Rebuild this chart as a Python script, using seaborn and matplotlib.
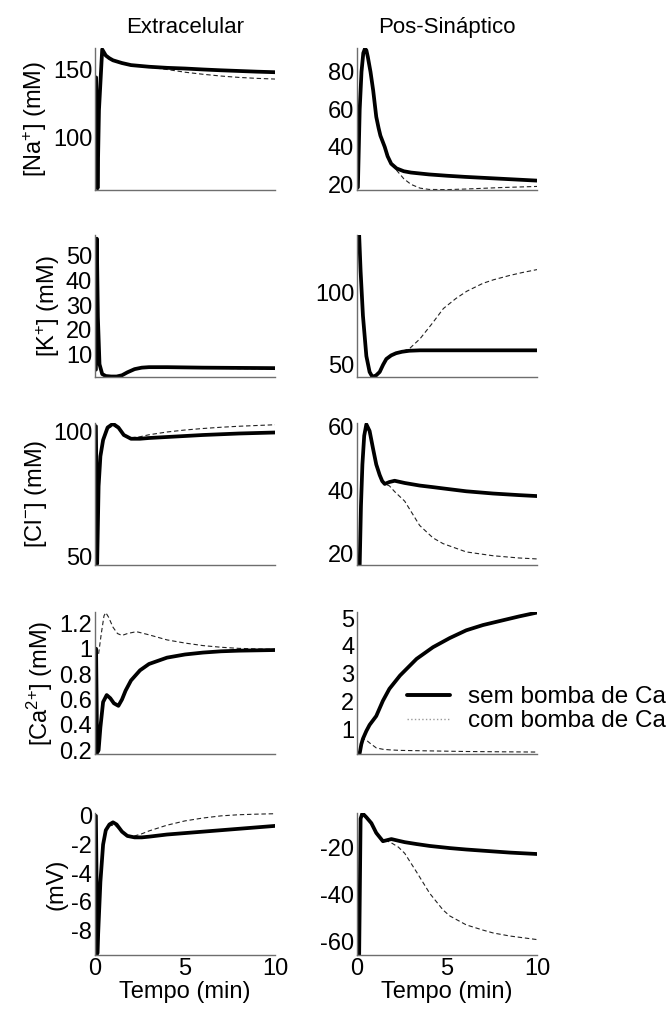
import pandas as pd
import seaborn as sns
import matplotlib.pyplot as plt
from matplotlib.lines import Line2D

# Extracelular column (time in min)
NA_EXT_T = [0, 0.06, 0.14, 0.22, 0.4, 0.6, 0.8, 1.0, 1.5, 2, 3, 4, 5, 6, 7, 8, 9, 10]
NA_EXT_SEM = [144, 144, 63, 120, 164.5, 160, 158, 156.5, 154.5, 153, 151.8, 151, 150.5, 149.8, 149.2, 148.7, 148.2, 147.8]
NA_EXT_COM = [144, 144, 63, 120, 164.5, 160, 158, 156.5, 154.5, 153, 151.5, 149.8, 147.8, 146.3, 145, 144, 143.3, 142.8]

K_EXT_T = [0, 0.05, 0.1, 0.16, 0.25, 0.4, 0.6, 0.9, 1.2, 1.5, 1.8, 2.2, 2.6, 3, 4, 5, 6, 8, 10]
K_EXT_SEM = [3.8, 3.8, 57, 25, 6, 2.0, 1.2, 1.0, 1.0, 1.5, 2.7, 4.0, 4.6, 4.8, 4.8, 4.7, 4.6, 4.5, 4.4]
K_EXT_COM = [3.8, 3.8, 57, 25, 6, 2.0, 1.2, 1.0, 1.0, 1.5, 2.7, 4.0, 4.6, 4.7, 4.6, 4.5, 4.4, 4.2, 4.1]

CL_EXT_T = [0, 0.05, 0.12, 0.2, 0.3, 0.45, 0.7, 1.0, 1.3, 1.6, 2.0, 2.5, 3, 4, 5, 6, 7, 8, 9, 10]
CL_EXT_SEM = [102, 102, 47, 78, 90, 96.5, 101.5, 103, 101.5, 98.5, 97, 97, 97.3, 97.7, 98.1, 98.5, 98.8, 99.1, 99.3, 99.5]
CL_EXT_COM = [102, 102, 47, 78, 90, 96.5, 101, 102.3, 101, 98.5, 97.4, 97.8, 98.6, 99.7, 100.5, 101.1, 101.6, 102, 102.3, 102.6]

CA_EXT_T_SEM = [0, 0.06, 0.12, 0.2, 0.3, 0.45, 0.65, 0.85, 1.05, 1.3, 1.5, 1.7, 2.0, 2.5, 3, 4, 5, 6, 7, 8, 10]
CA_EXT_SEM = [1.0, 1.0, 0.18, 0.2, 0.38, 0.58, 0.635, 0.61, 0.57, 0.55, 0.6, 0.67, 0.75, 0.83, 0.88, 0.93, 0.955, 0.97, 0.98, 0.985, 0.99]
CA_EXT_T_COM = [0, 0.1, 0.2, 0.35, 0.5, 0.6, 0.75, 1.0, 1.25, 1.5, 1.8, 2.3, 3, 4, 5, 6, 7, 8, 10]
CA_EXT_COM = [1.0, 1.0, 0.96, 1.12, 1.26, 1.285, 1.25, 1.17, 1.12, 1.105, 1.12, 1.135, 1.11, 1.07, 1.045, 1.025, 1.012, 1.003, 0.995]

V_EXT_T = [0, 0.05, 0.13, 0.2, 0.3, 0.45, 0.6, 0.8, 1.0, 1.2, 1.5, 1.8, 2.2, 2.6, 3, 4, 5, 6, 7, 8, 9, 10]
V_EXT_SEM = [0, 0, -9.6, -7.5, -4.6, -2.0, -1.0, -0.6, -0.45, -0.6, -1.1, -1.4, -1.5, -1.5, -1.45, -1.3, -1.2, -1.1, -1.0, -0.9, -0.8, -0.7]
V_EXT_COM = [0, 0, -9.6, -7.5, -4.6, -2.0, -1.0, -0.7, -0.65, -0.75, -1.1, -1.35, -1.4, -1.25, -1.05, -0.65, -0.35, -0.15, 0.0, 0.08, 0.12, 0.15]

# Pos-Sinaptico column
NA_POST_T = [0, 0.05, 0.15, 0.25, 0.35, 0.44, 0.52, 0.6, 0.75, 0.9, 1.07, 1.2, 1.3, 1.42, 1.54, 1.7, 1.9, 2.2, 2.6, 3, 3.5, 4, 5, 6, 7, 8, 9, 10]
NA_POST_SEM = [18, 18.5, 60, 80, 90, 92.3, 91.5, 88, 80, 70, 56, 50, 46, 43, 40, 35, 31, 28.5, 27, 26.3, 25.8, 25.3, 24.6, 24, 23.5, 23, 22.5, 22]
NA_POST_COM = [18, 18.5, 60, 80, 90, 92.3, 91.5, 88, 80, 70, 56, 50, 46, 43, 40, 35, 31, 27.5, 23, 20, 18, 17.3, 17.2, 17.5, 17.9, 18.3, 18.6, 18.9]

K_POST_T = [0, 0.12, 0.2, 0.33, 0.52, 0.7, 0.85, 1.05, 1.26, 1.45, 1.63, 1.9, 2.17, 2.5, 2.9, 3.5, 4.2, 4.8, 5.5, 6.1, 7, 7.6, 8.5, 9.2, 10]
K_POST_SEM = [140, 140, 115, 84, 56, 45, 41.7, 42.5, 45, 50, 54, 56.5, 58, 59, 59.7, 60, 60, 60, 60, 60, 60, 60, 60, 60, 60]
K_POST_COM = [140, 140, 115, 84, 56, 45, 41.7, 42.5, 45, 50, 54, 56.5, 58, 59.3, 61, 68, 79, 89, 96, 101, 106.5, 109, 112, 114, 116]

CL_POST_T = [0, 0.15, 0.22, 0.3, 0.4, 0.52, 0.7, 0.89, 1.07, 1.26, 1.4, 1.54, 1.8, 2.09, 2.65, 3.48, 4.22, 4.78, 6.07, 7.56, 9, 10]
CL_POST_SEM = [16.5, 16.5, 35, 48, 57, 60.6, 58.5, 53, 48, 44.7, 42.8, 41.9, 42.5, 42.9, 42.2, 41.4, 40.9, 40.5, 39.6, 38.9, 38.4, 38.1]
CL_POST_COM = [16.5, 16.5, 35, 48, 57, 60.6, 58.5, 53, 48, 44.7, 42.8, 41.9, 41.3, 39.5, 36.5, 28.9, 25, 23.2, 20.6, 19.4, 18.7, 18.4]

CA_POST_T = [0, 0.15, 0.24, 0.33, 0.52, 0.7, 1.07, 1.44, 1.8, 2.39, 3.31, 4.22, 5.15, 6.07, 7.0, 7.9, 9.0, 10]
CA_POST_SEM = [0.1, 0.13, 0.45, 0.65, 0.93, 1.15, 1.47, 2.02, 2.45, 2.93, 3.53, 3.95, 4.28, 4.56, 4.75, 4.89, 5.06, 5.2]
CA_POST_COM = [0.1, 0.2, 0.5, 0.65, 0.6, 0.5, 0.32, 0.27, 0.25, 0.23, 0.22, 0.21, 0.2, 0.19, 0.185, 0.18, 0.175, 0.17]

V_POST_T = [0, 0.12, 0.2, 0.3, 0.52, 0.8, 1.07, 1.44, 1.7, 1.91, 2.3, 2.65, 3.31, 4.04, 4.78, 5.15, 6.07, 7.0, 7.56, 8.5, 10]
V_POST_SEM = [-65.5, -65.5, -8, -5.7, -7.4, -9.9, -14, -17.5, -17.0, -16.6, -17.3, -17.9, -18.7, -19.5, -20.1, -20.4, -21, -21.5, -21.8, -22.3, -22.9]
V_POST_COM = [-65.5, -65.5, -8, -5.7, -7.4, -9.9, -14, -17.3, -17.5, -18.2, -20, -22.6, -30.5, -39.5, -46.5, -49, -52.8, -55, -56.2, -57.5, -59]

TITLES = ["Extracelular", "Pos-Sináptico"]
YLABELS = ["[Na$^{+}$] (mM)", "[K$^{+}$] (mM)", "[Cl$^{-}$] (mM)", "[Ca$^{2{+}}$] (mM)", "(mV)"]
LEGEND_LABELS = ["sem bomba de Ca", "com bomba de Ca"]

# (t_sem, sem, t_com, com, ylim, yticks) per panel, rows top to bottom
LEFT = [
    (NA_EXT_T, NA_EXT_SEM, NA_EXT_T, NA_EXT_COM, (61.7, 165.5), [100, 150]),
    (K_EXT_T, K_EXT_SEM, K_EXT_T, K_EXT_COM, (0.8, 58.5), [10, 20, 30, 40, 50]),
    (CL_EXT_T, CL_EXT_SEM, CL_EXT_T, CL_EXT_COM, (46.5, 103.3), [50, 100]),
    (CA_EXT_T_SEM, CA_EXT_SEM, CA_EXT_T_COM, CA_EXT_COM, (0.17, 1.29), [0.2, 0.4, 0.6, 0.8, 1, 1.2]),
    (V_EXT_T, V_EXT_SEM, V_EXT_T, V_EXT_COM, (-9.7, 0.2), [-8, -6, -4, -2, 0]),
]
RIGHT = [
    (NA_POST_T, NA_POST_SEM, NA_POST_T, NA_POST_COM, (17, 92.7), [20, 40, 60, 80]),
    (K_POST_T, K_POST_SEM, K_POST_T, K_POST_COM, (41.5, 140), [50, 100]),
    (CL_POST_T, CL_POST_SEM, CL_POST_T, CL_POST_COM, (16.5, 61), [20, 40, 60]),
    (CA_POST_T, CA_POST_SEM, CA_POST_T, CA_POST_COM, (0.1, 5.22), [1, 2, 3, 4, 5]),
    (V_POST_T, V_POST_SEM, V_POST_T, V_POST_COM, (-65.5, -5.6), [-60, -40, -20]),
]

W, H = 666, 1021
ROW_TOPS = [48, 235, 423, 612, 813]
AX_H = 142
COL_LEFT = [95, 357]
AX_W = 180
SPINE = '#6e6e6e'
FS = 17


def tick_fmt(v):
    return f"{v:g}"


def draw_panel(ax, panel):
    t_sem, sem, t_com, com, ylim, yticks = panel
    df_sem = pd.DataFrame({'t': t_sem, 'v': sem})
    df_com = pd.DataFrame({'t': t_com, 'v': com})
    sns.lineplot(data=df_com, x='t', y='v', ax=ax, color='#222222', lw=0.8,
                 linestyle=(0, (4, 2.5)), estimator=None, sort=False)
    sns.lineplot(data=df_sem, x='t', y='v', ax=ax, color='black', lw=2.7,
                 estimator=None, sort=False)
    ax.set_xlim(0, 10)
    ax.set_ylim(*ylim)
    ax.set_yticks(yticks)
    ax.set_yticklabels([tick_fmt(v) for v in yticks])
    ax.set_xticks([0, 5, 10])
    ax.set_xlabel('')
    ax.set_ylabel('')
    for s in ['top', 'right']:
        ax.spines[s].set_visible(False)
    for s in ['left', 'bottom']:
        ax.spines[s].set_color(SPINE)
        ax.spines[s].set_linewidth(1.0)
    ax.tick_params(direction='in', length=3, width=0.8, color=SPINE,
                   labelcolor='black', labelsize=FS, pad=2)


def main():
    sns.set_theme(style="white")
    plt.rcParams['font.family'] = ['Liberation Sans', 'DejaVu Sans']
    plt.rcParams['mathtext.fontset'] = 'custom'
    plt.rcParams['mathtext.rm'] = 'Liberation Sans'
    plt.rcParams['mathtext.it'] = 'Liberation Sans'
    plt.rcParams['text.color'] = 'black'
    plt.rcParams['axes.labelcolor'] = 'black'

    fig = plt.figure(figsize=(W / 100, H / 100), dpi=100)
    for col, panels in enumerate([LEFT, RIGHT]):
        for row, panel in enumerate(panels):
            rect = [COL_LEFT[col] / W, 1 - (ROW_TOPS[row] + AX_H) / H, AX_W / W, AX_H / H]
            ax = fig.add_axes(rect)
            draw_panel(ax, panel)
            if row == 0:
                ax.set_title(TITLES[col], fontsize=16, pad=11, color='black')
            if col == 0:
                ax.set_ylabel(YLABELS[row], fontsize=FS, labelpad=3)
            if row == 4:
                ax.set_xlabel('Tempo (min)', fontsize=FS, labelpad=1)
            else:
                ax.set_xticklabels([])

    handles = [Line2D([], [], color='black', lw=2.8),
               Line2D([], [], color='#9a9a9a', lw=1.0, linestyle=':')]
    fig.legend(handles, LEGEND_LABELS, loc='upper left',
               bbox_to_anchor=(407 / W, 1 - 686 / H), frameon=False,
               fontsize=17.5, handlelength=1.75, handletextpad=0.75,
               labelspacing=0.1, borderpad=0, borderaxespad=0)

    fig.savefig('out.png', dpi=100)


if __name__ == "__main__":
    main()
